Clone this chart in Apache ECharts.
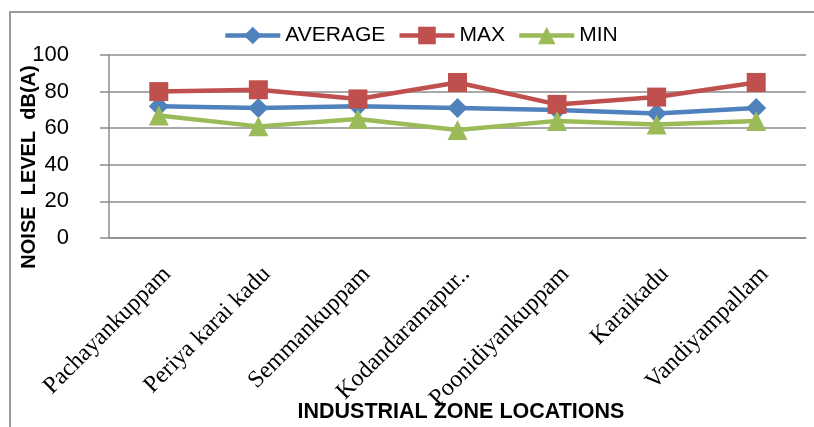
<!DOCTYPE html>
<html>
<head>
<meta charset="utf-8">
<script src="https://cdn.jsdelivr.net/npm/echarts@6/dist/echarts.min.js"></script>
<style>
  html, body { margin: 0; padding: 0; background: #fff; }
  #chart { width: 814px; height: 427px; }
</style>
</head>
<body>
<div id="chart"></div>
<script>
// locations along the x axis
const locations = [
  'Pachayankuppam',
  'Periya karai kadu',
  'Semmankuppam',
  'Kodandaramapur..',
  'Poonidiyankuppam',
  'Karaikadu',
  'Vandiyampallam'
]

// noise levels, dB(A)
const averageLevel = [72, 71, 72, 71, 70, 68, 71]
const maxLevel = [80, 81, 76, 85, 73, 77, 85]
const minLevel = [67, 61, 65, 59, 64, 62, 64]

const yTicks = [0, 20, 40, 60, 80, 100]

const sans = '"Liberation Sans", Arial, sans-serif'
const gridGray = '#8c8c8c'

const chart = echarts.init(document.getElementById('chart'))

const lineSeries = (name, data, color, symbol, size) => ({
  name,
  type: 'line',
  data,
  symbol,
  symbolSize: size,
  lineStyle: { color, width: 4.5 },
  itemStyle: { color },
  emphasis: { disabled: true },
  animation: false,
})

// axis titles are placed by hand, the axis name kept getting pushed below the labels
const titleText = (text, x, y, rotation, size) => ({
  type: 'text',
  x,
  y,
  rotation,
  style: {
    text,
    font: 'bold ' + size + 'px "Liberation Sans", Arial, sans-serif',
    fill: '#000',
    align: 'center',
    verticalAlign: 'middle',
  },
  silent: true,
})

chart.setOption({
  animation: false,
  graphic: [
    {
      type: 'rect',
      shape: { x: 10, y: 12, width: 830, height: 440 },
      style: { fill: 'none', stroke: '#9a9a9a', lineWidth: 2 },
      silent: true,
    },
    titleText('NOISE  LEVEL  dB(A)', 29, 167, Math.PI / 2, 20),
    titleText('INDUSTRIAL ZONE LOCATIONS', 461, 412, 0, 21.5),
  ],
  legend: {
    left: 223,
    top: 25,
    padding: 0,
    itemWidth: 55,
    itemHeight: 22,
    itemGap: 12,
    lineStyle: { width: 4.5 },
    textStyle: { fontFamily: sans, fontSize: 21, color: '#000' },
    data: ['AVERAGE', 'MAX', 'MIN'],
  },
  grid: { left: 109, right: 8, top: 55, bottom: 189, outerBoundsMode: 'none' },
  xAxis: {
    type: 'category',
    data: locations,
    boundaryGap: true,
    axisLine: { lineStyle: { color: gridGray, width: 1.5 } },
    axisTick: { show: false },
    axisLabel: {
      interval: 0,
      rotate: 45,
      margin: 24,
      verticalAlign: 'top',
      fontFamily: '"Liberation Serif", "Times New Roman", serif',
      fontSize: 24,
      color: '#000',
    },
  },
  yAxis: {
    type: 'value',
    min: yTicks[0],
    max: yTicks[yTicks.length - 1],
    interval: 20,
    axisLine: { show: true, lineStyle: { color: gridGray, width: 1.5 } },
    axisTick: { show: true, length: 9, lineStyle: { color: gridGray, width: 1.5 } },
    axisLabel: {
      margin: 40,
      fontFamily: sans,
      fontSize: 22,
      color: '#000',
    },
    splitLine: { lineStyle: { color: gridGray, width: 1.5 } },
  },
  series: [
    lineSeries('AVERAGE', averageLevel, '#4f81bd', 'diamond', 20),
    lineSeries('MAX', maxLevel, '#c0504d', 'rect', 19),
    lineSeries('MIN', minLevel, '#9bbb59', 'triangle', 20),
  ],
})
</script>
</body>
</html>
